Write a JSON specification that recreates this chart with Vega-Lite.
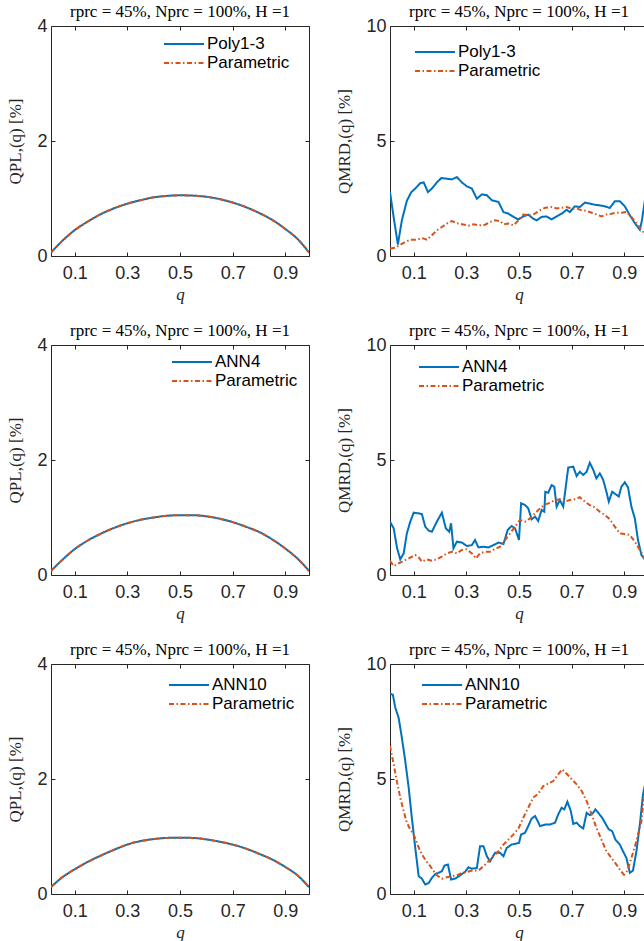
{
  "$schema": "https://vega.github.io/schema/vega-lite/v6.json",
  "padding": {"left": 6, "top": 2, "right": 0, "bottom": 0},
  "columns": 2,
  "spacing": {"row": 89, "column": 81},
  "bounds": "flush",
  "resolve": {"scale": {"color": "independent", "strokeDash": "independent"}, "legend": {"color": "independent", "strokeDash": "independent"}},
  "datasets": {
    "pl1": [
      {"q":0.01,"v":0.06,"s":"Poly1-3"},{"q":0.05,"v":0.25,"s":"Poly1-3"},{"q":0.1,"v":0.45,"s":"Poly1-3"},{"q":0.15,"v":0.6,"s":"Poly1-3"},{"q":0.2,"v":0.73,"s":"Poly1-3"},{"q":0.25,"v":0.83,"s":"Poly1-3"},{"q":0.3,"v":0.91,"s":"Poly1-3"},{"q":0.35,"v":0.97,"s":"Poly1-3"},{"q":0.4,"v":1.02,"s":"Poly1-3"},{"q":0.45,"v":1.045,"s":"Poly1-3"},{"q":0.5,"v":1.055,"s":"Poly1-3"},{"q":0.55,"v":1.05,"s":"Poly1-3"},{"q":0.6,"v":1.03,"s":"Poly1-3"},{"q":0.65,"v":0.99,"s":"Poly1-3"},{"q":0.7,"v":0.93,"s":"Poly1-3"},{"q":0.75,"v":0.85,"s":"Poly1-3"},{"q":0.8,"v":0.75,"s":"Poly1-3"},{"q":0.85,"v":0.63,"s":"Poly1-3"},{"q":0.9,"v":0.47,"s":"Poly1-3"},{"q":0.95,"v":0.28,"s":"Poly1-3"},{"q":0.99,"v":0.06,"s":"Poly1-3"},
      {"q":0.01,"v":0.06,"s":"Parametric"},{"q":0.05,"v":0.25,"s":"Parametric"},{"q":0.1,"v":0.45,"s":"Parametric"},{"q":0.15,"v":0.6,"s":"Parametric"},{"q":0.2,"v":0.73,"s":"Parametric"},{"q":0.25,"v":0.83,"s":"Parametric"},{"q":0.3,"v":0.91,"s":"Parametric"},{"q":0.35,"v":0.97,"s":"Parametric"},{"q":0.4,"v":1.02,"s":"Parametric"},{"q":0.45,"v":1.045,"s":"Parametric"},{"q":0.5,"v":1.055,"s":"Parametric"},{"q":0.55,"v":1.05,"s":"Parametric"},{"q":0.6,"v":1.03,"s":"Parametric"},{"q":0.65,"v":0.99,"s":"Parametric"},{"q":0.7,"v":0.93,"s":"Parametric"},{"q":0.75,"v":0.85,"s":"Parametric"},{"q":0.8,"v":0.75,"s":"Parametric"},{"q":0.85,"v":0.63,"s":"Parametric"},{"q":0.9,"v":0.47,"s":"Parametric"},{"q":0.95,"v":0.28,"s":"Parametric"},{"q":0.99,"v":0.06,"s":"Parametric"}
    ],
    "pl2": [
      {"q":0.01,"v":0.07,"s":"ANN4"},{"q":0.05,"v":0.25,"s":"ANN4"},{"q":0.1,"v":0.45,"s":"ANN4"},{"q":0.15,"v":0.6,"s":"ANN4"},{"q":0.2,"v":0.72,"s":"ANN4"},{"q":0.25,"v":0.82,"s":"ANN4"},{"q":0.3,"v":0.9,"s":"ANN4"},{"q":0.35,"v":0.96,"s":"ANN4"},{"q":0.4,"v":1.0,"s":"ANN4"},{"q":0.45,"v":1.03,"s":"ANN4"},{"q":0.5,"v":1.04,"s":"ANN4"},{"q":0.55,"v":1.04,"s":"ANN4"},{"q":0.6,"v":1.02,"s":"ANN4"},{"q":0.65,"v":0.98,"s":"ANN4"},{"q":0.7,"v":0.92,"s":"ANN4"},{"q":0.75,"v":0.84,"s":"ANN4"},{"q":0.8,"v":0.75,"s":"ANN4"},{"q":0.85,"v":0.62,"s":"ANN4"},{"q":0.9,"v":0.46,"s":"ANN4"},{"q":0.95,"v":0.27,"s":"ANN4"},{"q":0.99,"v":0.07,"s":"ANN4"},
      {"q":0.01,"v":0.07,"s":"Parametric"},{"q":0.05,"v":0.25,"s":"Parametric"},{"q":0.1,"v":0.45,"s":"Parametric"},{"q":0.15,"v":0.6,"s":"Parametric"},{"q":0.2,"v":0.72,"s":"Parametric"},{"q":0.25,"v":0.82,"s":"Parametric"},{"q":0.3,"v":0.9,"s":"Parametric"},{"q":0.35,"v":0.96,"s":"Parametric"},{"q":0.4,"v":1.0,"s":"Parametric"},{"q":0.45,"v":1.03,"s":"Parametric"},{"q":0.5,"v":1.04,"s":"Parametric"},{"q":0.55,"v":1.04,"s":"Parametric"},{"q":0.6,"v":1.02,"s":"Parametric"},{"q":0.65,"v":0.98,"s":"Parametric"},{"q":0.7,"v":0.92,"s":"Parametric"},{"q":0.75,"v":0.84,"s":"Parametric"},{"q":0.8,"v":0.75,"s":"Parametric"},{"q":0.85,"v":0.62,"s":"Parametric"},{"q":0.9,"v":0.46,"s":"Parametric"},{"q":0.95,"v":0.27,"s":"Parametric"},{"q":0.99,"v":0.07,"s":"Parametric"}
    ],
    "pl3": [
      {"q":0.01,"v":0.12,"s":"ANN10"},{"q":0.05,"v":0.28,"s":"ANN10"},{"q":0.1,"v":0.43,"s":"ANN10"},{"q":0.15,"v":0.56,"s":"ANN10"},{"q":0.2,"v":0.67,"s":"ANN10"},{"q":0.25,"v":0.77,"s":"ANN10"},{"q":0.3,"v":0.86,"s":"ANN10"},{"q":0.35,"v":0.92,"s":"ANN10"},{"q":0.4,"v":0.955,"s":"ANN10"},{"q":0.45,"v":0.975,"s":"ANN10"},{"q":0.5,"v":0.98,"s":"ANN10"},{"q":0.55,"v":0.975,"s":"ANN10"},{"q":0.6,"v":0.95,"s":"ANN10"},{"q":0.65,"v":0.91,"s":"ANN10"},{"q":0.7,"v":0.86,"s":"ANN10"},{"q":0.75,"v":0.79,"s":"ANN10"},{"q":0.8,"v":0.7,"s":"ANN10"},{"q":0.85,"v":0.6,"s":"ANN10"},{"q":0.9,"v":0.47,"s":"ANN10"},{"q":0.95,"v":0.31,"s":"ANN10"},{"q":0.99,"v":0.12,"s":"ANN10"},
      {"q":0.01,"v":0.12,"s":"Parametric"},{"q":0.05,"v":0.28,"s":"Parametric"},{"q":0.1,"v":0.43,"s":"Parametric"},{"q":0.15,"v":0.56,"s":"Parametric"},{"q":0.2,"v":0.67,"s":"Parametric"},{"q":0.25,"v":0.77,"s":"Parametric"},{"q":0.3,"v":0.86,"s":"Parametric"},{"q":0.35,"v":0.92,"s":"Parametric"},{"q":0.4,"v":0.955,"s":"Parametric"},{"q":0.45,"v":0.975,"s":"Parametric"},{"q":0.5,"v":0.98,"s":"Parametric"},{"q":0.55,"v":0.975,"s":"Parametric"},{"q":0.6,"v":0.95,"s":"Parametric"},{"q":0.65,"v":0.91,"s":"Parametric"},{"q":0.7,"v":0.86,"s":"Parametric"},{"q":0.75,"v":0.79,"s":"Parametric"},{"q":0.8,"v":0.7,"s":"Parametric"},{"q":0.85,"v":0.6,"s":"Parametric"},{"q":0.9,"v":0.47,"s":"Parametric"},{"q":0.95,"v":0.31,"s":"Parametric"},{"q":0.99,"v":0.12,"s":"Parametric"}
    ],
    "mrd1": [
      {"q":0.01,"v":2.78,"s":"Poly1-3"},{"q":0.025,"v":1.6,"s":"Poly1-3"},{"q":0.04,"v":0.5,"s":"Poly1-3"},{"q":0.055,"v":1.55,"s":"Poly1-3"},{"q":0.074,"v":2.4,"s":"Poly1-3"},{"q":0.091,"v":2.78,"s":"Poly1-3"},{"q":0.106,"v":2.93,"s":"Poly1-3"},{"q":0.125,"v":3.17,"s":"Poly1-3"},{"q":0.138,"v":3.2,"s":"Poly1-3"},{"q":0.154,"v":2.78,"s":"Poly1-3"},{"q":0.169,"v":2.93,"s":"Poly1-3"},{"q":0.188,"v":3.2,"s":"Poly1-3"},{"q":0.205,"v":3.39,"s":"Poly1-3"},{"q":0.226,"v":3.36,"s":"Poly1-3"},{"q":0.245,"v":3.33,"s":"Poly1-3"},{"q":0.264,"v":3.43,"s":"Poly1-3"},{"q":0.283,"v":3.2,"s":"Poly1-3"},{"q":0.302,"v":3.03,"s":"Poly1-3"},{"q":0.321,"v":2.93,"s":"Poly1-3"},{"q":0.34,"v":2.49,"s":"Poly1-3"},{"q":0.359,"v":2.68,"s":"Poly1-3"},{"q":0.378,"v":2.64,"s":"Poly1-3"},{"q":0.397,"v":2.42,"s":"Poly1-3"},{"q":0.422,"v":2.35,"s":"Poly1-3"},{"q":0.441,"v":1.91,"s":"Poly1-3"},{"q":0.46,"v":1.84,"s":"Poly1-3"},{"q":0.479,"v":1.7,"s":"Poly1-3"},{"q":0.498,"v":1.59,"s":"Poly1-3"},{"q":0.516,"v":1.72,"s":"Poly1-3"},{"q":0.535,"v":1.8,"s":"Poly1-3"},{"q":0.554,"v":1.62,"s":"Poly1-3"},{"q":0.567,"v":1.55,"s":"Poly1-3"},{"q":0.586,"v":1.7,"s":"Poly1-3"},{"q":0.605,"v":1.72,"s":"Poly1-3"},{"q":0.624,"v":1.59,"s":"Poly1-3"},{"q":0.643,"v":1.72,"s":"Poly1-3"},{"q":0.662,"v":1.84,"s":"Poly1-3"},{"q":0.681,"v":2.01,"s":"Poly1-3"},{"q":0.693,"v":1.91,"s":"Poly1-3"},{"q":0.712,"v":2.16,"s":"Poly1-3"},{"q":0.731,"v":2.13,"s":"Poly1-3"},{"q":0.75,"v":2.32,"s":"Poly1-3"},{"q":0.769,"v":2.28,"s":"Poly1-3"},{"q":0.788,"v":2.23,"s":"Poly1-3"},{"q":0.807,"v":2.2,"s":"Poly1-3"},{"q":0.826,"v":2.16,"s":"Poly1-3"},{"q":0.845,"v":2.09,"s":"Poly1-3"},{"q":0.864,"v":2.38,"s":"Poly1-3"},{"q":0.883,"v":2.38,"s":"Poly1-3"},{"q":0.902,"v":2.16,"s":"Poly1-3"},{"q":0.921,"v":1.77,"s":"Poly1-3"},{"q":0.94,"v":1.43,"s":"Poly1-3"},{"q":0.959,"v":1.14,"s":"Poly1-3"},{"q":0.967,"v":1.55,"s":"Poly1-3"},{"q":0.978,"v":2.42,"s":"Poly1-3"},{"q":0.99,"v":2.9,"s":"Poly1-3"},
      {"q":0.01,"v":0.32,"s":"Parametric"},{"q":0.03,"v":0.36,"s":"Parametric"},{"q":0.049,"v":0.49,"s":"Parametric"},{"q":0.068,"v":0.61,"s":"Parametric"},{"q":0.087,"v":0.71,"s":"Parametric"},{"q":0.112,"v":0.71,"s":"Parametric"},{"q":0.131,"v":0.78,"s":"Parametric"},{"q":0.15,"v":0.71,"s":"Parametric"},{"q":0.169,"v":0.9,"s":"Parametric"},{"q":0.188,"v":1.12,"s":"Parametric"},{"q":0.207,"v":1.26,"s":"Parametric"},{"q":0.226,"v":1.41,"s":"Parametric"},{"q":0.245,"v":1.52,"s":"Parametric"},{"q":0.264,"v":1.43,"s":"Parametric"},{"q":0.283,"v":1.38,"s":"Parametric"},{"q":0.308,"v":1.32,"s":"Parametric"},{"q":0.327,"v":1.38,"s":"Parametric"},{"q":0.346,"v":1.33,"s":"Parametric"},{"q":0.371,"v":1.36,"s":"Parametric"},{"q":0.39,"v":1.48,"s":"Parametric"},{"q":0.409,"v":1.55,"s":"Parametric"},{"q":0.428,"v":1.52,"s":"Parametric"},{"q":0.441,"v":1.38,"s":"Parametric"},{"q":0.46,"v":1.41,"s":"Parametric"},{"q":0.479,"v":1.33,"s":"Parametric"},{"q":0.498,"v":1.55,"s":"Parametric"},{"q":0.516,"v":1.8,"s":"Parametric"},{"q":0.542,"v":1.77,"s":"Parametric"},{"q":0.56,"v":1.84,"s":"Parametric"},{"q":0.58,"v":1.99,"s":"Parametric"},{"q":0.6,"v":2.1,"s":"Parametric"},{"q":0.624,"v":2.13,"s":"Parametric"},{"q":0.643,"v":2.07,"s":"Parametric"},{"q":0.662,"v":2.1,"s":"Parametric"},{"q":0.681,"v":2.13,"s":"Parametric"},{"q":0.7,"v":2.06,"s":"Parametric"},{"q":0.72,"v":2.06,"s":"Parametric"},{"q":0.738,"v":1.99,"s":"Parametric"},{"q":0.757,"v":1.96,"s":"Parametric"},{"q":0.776,"v":1.88,"s":"Parametric"},{"q":0.794,"v":1.81,"s":"Parametric"},{"q":0.813,"v":1.72,"s":"Parametric"},{"q":0.832,"v":1.81,"s":"Parametric"},{"q":0.851,"v":1.84,"s":"Parametric"},{"q":0.87,"v":1.88,"s":"Parametric"},{"q":0.889,"v":1.88,"s":"Parametric"},{"q":0.908,"v":1.91,"s":"Parametric"},{"q":0.927,"v":1.7,"s":"Parametric"},{"q":0.946,"v":1.43,"s":"Parametric"},{"q":0.965,"v":1.12,"s":"Parametric"},{"q":0.984,"v":0.9,"s":"Parametric"},{"q":0.99,"v":0.85,"s":"Parametric"}
    ],
    "mrd2": [
      {"q":0.01,"v":2.32,"s":"ANN4"},{"q":0.024,"v":2.03,"s":"ANN4"},{"q":0.037,"v":1.16,"s":"ANN4"},{"q":0.049,"v":0.68,"s":"ANN4"},{"q":0.062,"v":0.94,"s":"ANN4"},{"q":0.074,"v":1.81,"s":"ANN4"},{"q":0.087,"v":2.32,"s":"ANN4"},{"q":0.1,"v":2.71,"s":"ANN4"},{"q":0.119,"v":2.68,"s":"ANN4"},{"q":0.131,"v":2.65,"s":"ANN4"},{"q":0.144,"v":2.1,"s":"ANN4"},{"q":0.157,"v":1.93,"s":"ANN4"},{"q":0.169,"v":1.88,"s":"ANN4"},{"q":0.188,"v":2.32,"s":"ANN4"},{"q":0.207,"v":2.71,"s":"ANN4"},{"q":0.222,"v":2.03,"s":"ANN4"},{"q":0.235,"v":1.88,"s":"ANN4"},{"q":0.242,"v":2.25,"s":"ANN4"},{"q":0.251,"v":1.16,"s":"ANN4"},{"q":0.264,"v":1.45,"s":"ANN4"},{"q":0.283,"v":1.41,"s":"ANN4"},{"q":0.302,"v":1.26,"s":"ANN4"},{"q":0.321,"v":1.3,"s":"ANN4"},{"q":0.333,"v":1.52,"s":"ANN4"},{"q":0.346,"v":1.2,"s":"ANN4"},{"q":0.365,"v":1.23,"s":"ANN4"},{"q":0.384,"v":1.2,"s":"ANN4"},{"q":0.403,"v":1.3,"s":"ANN4"},{"q":0.422,"v":1.41,"s":"ANN4"},{"q":0.441,"v":1.35,"s":"ANN4"},{"q":0.457,"v":1.96,"s":"ANN4"},{"q":0.472,"v":2.13,"s":"ANN4"},{"q":0.485,"v":2.03,"s":"ANN4"},{"q":0.5,"v":1.52,"s":"ANN4"},{"q":0.508,"v":3.12,"s":"ANN4"},{"q":0.523,"v":3.04,"s":"ANN4"},{"q":0.535,"v":2.9,"s":"ANN4"},{"q":0.548,"v":2.42,"s":"ANN4"},{"q":0.561,"v":2.54,"s":"ANN4"},{"q":0.573,"v":2.35,"s":"ANN4"},{"q":0.586,"v":2.83,"s":"ANN4"},{"q":0.596,"v":2.75,"s":"ANN4"},{"q":0.6,"v":3.62,"s":"ANN4"},{"q":0.611,"v":3.58,"s":"ANN4"},{"q":0.624,"v":3.91,"s":"ANN4"},{"q":0.634,"v":3.84,"s":"ANN4"},{"q":0.643,"v":2.97,"s":"ANN4"},{"q":0.655,"v":3.26,"s":"ANN4"},{"q":0.668,"v":2.97,"s":"ANN4"},{"q":0.687,"v":4.67,"s":"ANN4"},{"q":0.706,"v":4.71,"s":"ANN4"},{"q":0.719,"v":4.3,"s":"ANN4"},{"q":0.731,"v":4.49,"s":"ANN4"},{"q":0.744,"v":4.35,"s":"ANN4"},{"q":0.757,"v":4.49,"s":"ANN4"},{"q":0.769,"v":4.88,"s":"ANN4"},{"q":0.782,"v":4.57,"s":"ANN4"},{"q":0.794,"v":4.2,"s":"ANN4"},{"q":0.807,"v":4.42,"s":"ANN4"},{"q":0.82,"v":4.13,"s":"ANN4"},{"q":0.832,"v":3.62,"s":"ANN4"},{"q":0.841,"v":3.19,"s":"ANN4"},{"q":0.854,"v":3.62,"s":"ANN4"},{"q":0.866,"v":3.52,"s":"ANN4"},{"q":0.879,"v":3.41,"s":"ANN4"},{"q":0.889,"v":3.84,"s":"ANN4"},{"q":0.902,"v":4.03,"s":"ANN4"},{"q":0.914,"v":3.81,"s":"ANN4"},{"q":0.927,"v":2.97,"s":"ANN4"},{"q":0.94,"v":2.46,"s":"ANN4"},{"q":0.952,"v":1.52,"s":"ANN4"},{"q":0.965,"v":0.87,"s":"ANN4"},{"q":0.978,"v":0.68,"s":"ANN4"},{"q":0.99,"v":0.5,"s":"ANN4"},
      {"q":0.01,"v":0.62,"s":"Parametric"},{"q":0.024,"v":0.39,"s":"Parametric"},{"q":0.043,"v":0.51,"s":"Parametric"},{"q":0.062,"v":0.62,"s":"Parametric"},{"q":0.081,"v":0.72,"s":"Parametric"},{"q":0.106,"v":0.87,"s":"Parametric"},{"q":0.119,"v":0.77,"s":"Parametric"},{"q":0.131,"v":0.58,"s":"Parametric"},{"q":0.15,"v":0.68,"s":"Parametric"},{"q":0.169,"v":0.62,"s":"Parametric"},{"q":0.188,"v":0.68,"s":"Parametric"},{"q":0.207,"v":0.8,"s":"Parametric"},{"q":0.226,"v":0.94,"s":"Parametric"},{"q":0.245,"v":1.01,"s":"Parametric"},{"q":0.264,"v":0.94,"s":"Parametric"},{"q":0.283,"v":1.09,"s":"Parametric"},{"q":0.302,"v":1.12,"s":"Parametric"},{"q":0.321,"v":0.94,"s":"Parametric"},{"q":0.336,"v":0.72,"s":"Parametric"},{"q":0.352,"v":0.94,"s":"Parametric"},{"q":0.371,"v":1.01,"s":"Parametric"},{"q":0.39,"v":1.01,"s":"Parametric"},{"q":0.409,"v":1.13,"s":"Parametric"},{"q":0.428,"v":1.23,"s":"Parametric"},{"q":0.447,"v":1.52,"s":"Parametric"},{"q":0.466,"v":1.81,"s":"Parametric"},{"q":0.485,"v":2.1,"s":"Parametric"},{"q":0.504,"v":2.39,"s":"Parametric"},{"q":0.523,"v":2.32,"s":"Parametric"},{"q":0.542,"v":2.46,"s":"Parametric"},{"q":0.561,"v":2.68,"s":"Parametric"},{"q":0.58,"v":2.9,"s":"Parametric"},{"q":0.6,"v":3.07,"s":"Parametric"},{"q":0.618,"v":3.14,"s":"Parametric"},{"q":0.637,"v":3.26,"s":"Parametric"},{"q":0.656,"v":3.29,"s":"Parametric"},{"q":0.674,"v":3.19,"s":"Parametric"},{"q":0.693,"v":3.26,"s":"Parametric"},{"q":0.712,"v":3.29,"s":"Parametric"},{"q":0.731,"v":3.38,"s":"Parametric"},{"q":0.75,"v":3.19,"s":"Parametric"},{"q":0.769,"v":3.04,"s":"Parametric"},{"q":0.788,"v":2.94,"s":"Parametric"},{"q":0.807,"v":2.75,"s":"Parametric"},{"q":0.826,"v":2.61,"s":"Parametric"},{"q":0.845,"v":2.42,"s":"Parametric"},{"q":0.864,"v":2.1,"s":"Parametric"},{"q":0.883,"v":1.81,"s":"Parametric"},{"q":0.902,"v":1.78,"s":"Parametric"},{"q":0.921,"v":1.74,"s":"Parametric"},{"q":0.94,"v":1.45,"s":"Parametric"},{"q":0.959,"v":1.09,"s":"Parametric"},{"q":0.978,"v":0.72,"s":"Parametric"},{"q":0.99,"v":0.52,"s":"Parametric"}
    ],
    "mrd3": [
      {"q":0.01,"v":8.72,"s":"ANN10"},{"q":0.021,"v":8.66,"s":"ANN10"},{"q":0.03,"v":8.11,"s":"ANN10"},{"q":0.043,"v":7.65,"s":"ANN10"},{"q":0.055,"v":6.8,"s":"ANN10"},{"q":0.068,"v":5.78,"s":"ANN10"},{"q":0.081,"v":4.62,"s":"ANN10"},{"q":0.093,"v":3.31,"s":"ANN10"},{"q":0.106,"v":2.0,"s":"ANN10"},{"q":0.119,"v":0.77,"s":"ANN10"},{"q":0.131,"v":0.67,"s":"ANN10"},{"q":0.144,"v":0.41,"s":"ANN10"},{"q":0.157,"v":0.48,"s":"ANN10"},{"q":0.169,"v":0.7,"s":"ANN10"},{"q":0.182,"v":0.87,"s":"ANN10"},{"q":0.194,"v":0.92,"s":"ANN10"},{"q":0.207,"v":0.99,"s":"ANN10"},{"q":0.217,"v":1.24,"s":"ANN10"},{"q":0.23,"v":1.28,"s":"ANN10"},{"q":0.242,"v":0.63,"s":"ANN10"},{"q":0.258,"v":0.67,"s":"ANN10"},{"q":0.276,"v":0.81,"s":"ANN10"},{"q":0.295,"v":0.96,"s":"ANN10"},{"q":0.308,"v":1.16,"s":"ANN10"},{"q":0.321,"v":1.1,"s":"ANN10"},{"q":0.34,"v":1.13,"s":"ANN10"},{"q":0.352,"v":2.08,"s":"ANN10"},{"q":0.365,"v":2.08,"s":"ANN10"},{"q":0.378,"v":1.64,"s":"ANN10"},{"q":0.39,"v":1.42,"s":"ANN10"},{"q":0.409,"v":1.79,"s":"ANN10"},{"q":0.428,"v":1.79,"s":"ANN10"},{"q":0.441,"v":1.64,"s":"ANN10"},{"q":0.453,"v":2.0,"s":"ANN10"},{"q":0.472,"v":2.15,"s":"ANN10"},{"q":0.485,"v":2.18,"s":"ANN10"},{"q":0.5,"v":2.22,"s":"ANN10"},{"q":0.508,"v":2.59,"s":"ANN10"},{"q":0.523,"v":2.66,"s":"ANN10"},{"q":0.535,"v":2.95,"s":"ANN10"},{"q":0.548,"v":3.28,"s":"ANN10"},{"q":0.561,"v":3.39,"s":"ANN10"},{"q":0.571,"v":3.17,"s":"ANN10"},{"q":0.58,"v":2.95,"s":"ANN10"},{"q":0.6,"v":3.02,"s":"ANN10"},{"q":0.618,"v":3.02,"s":"ANN10"},{"q":0.637,"v":3.1,"s":"ANN10"},{"q":0.649,"v":3.46,"s":"ANN10"},{"q":0.662,"v":3.75,"s":"ANN10"},{"q":0.672,"v":3.68,"s":"ANN10"},{"q":0.684,"v":4.01,"s":"ANN10"},{"q":0.697,"v":3.6,"s":"ANN10"},{"q":0.706,"v":3.05,"s":"ANN10"},{"q":0.719,"v":3.1,"s":"ANN10"},{"q":0.731,"v":2.95,"s":"ANN10"},{"q":0.744,"v":2.85,"s":"ANN10"},{"q":0.757,"v":3.53,"s":"ANN10"},{"q":0.769,"v":3.43,"s":"ANN10"},{"q":0.782,"v":3.53,"s":"ANN10"},{"q":0.79,"v":3.68,"s":"ANN10"},{"q":0.804,"v":3.49,"s":"ANN10"},{"q":0.816,"v":3.31,"s":"ANN10"},{"q":0.829,"v":3.05,"s":"ANN10"},{"q":0.841,"v":2.81,"s":"ANN10"},{"q":0.854,"v":2.73,"s":"ANN10"},{"q":0.866,"v":2.37,"s":"ANN10"},{"q":0.883,"v":2.15,"s":"ANN10"},{"q":0.895,"v":1.86,"s":"ANN10"},{"q":0.908,"v":1.57,"s":"ANN10"},{"q":0.921,"v":0.92,"s":"ANN10"},{"q":0.933,"v":1.02,"s":"ANN10"},{"q":0.946,"v":1.86,"s":"ANN10"},{"q":0.959,"v":3.02,"s":"ANN10"},{"q":0.971,"v":4.33,"s":"ANN10"},{"q":0.985,"v":5.1,"s":"ANN10"},{"q":0.99,"v":5.6,"s":"ANN10"},
      {"q":0.01,"v":6.44,"s":"Parametric"},{"q":0.024,"v":5.64,"s":"Parametric"},{"q":0.037,"v":4.84,"s":"Parametric"},{"q":0.049,"v":4.19,"s":"Parametric"},{"q":0.062,"v":3.6,"s":"Parametric"},{"q":0.074,"v":3.1,"s":"Parametric"},{"q":0.087,"v":2.81,"s":"Parametric"},{"q":0.1,"v":2.59,"s":"Parametric"},{"q":0.112,"v":2.22,"s":"Parametric"},{"q":0.125,"v":1.86,"s":"Parametric"},{"q":0.138,"v":1.6,"s":"Parametric"},{"q":0.15,"v":1.4,"s":"Parametric"},{"q":0.163,"v":1.21,"s":"Parametric"},{"q":0.176,"v":0.99,"s":"Parametric"},{"q":0.188,"v":0.81,"s":"Parametric"},{"q":0.207,"v":0.67,"s":"Parametric"},{"q":0.226,"v":0.73,"s":"Parametric"},{"q":0.245,"v":0.77,"s":"Parametric"},{"q":0.264,"v":0.81,"s":"Parametric"},{"q":0.283,"v":0.92,"s":"Parametric"},{"q":0.302,"v":0.96,"s":"Parametric"},{"q":0.321,"v":1.02,"s":"Parametric"},{"q":0.346,"v":1.02,"s":"Parametric"},{"q":0.365,"v":1.21,"s":"Parametric"},{"q":0.384,"v":1.42,"s":"Parametric"},{"q":0.403,"v":1.64,"s":"Parametric"},{"q":0.422,"v":1.86,"s":"Parametric"},{"q":0.441,"v":2.15,"s":"Parametric"},{"q":0.46,"v":2.37,"s":"Parametric"},{"q":0.479,"v":2.59,"s":"Parametric"},{"q":0.498,"v":2.85,"s":"Parametric"},{"q":0.516,"v":3.31,"s":"Parametric"},{"q":0.535,"v":3.75,"s":"Parametric"},{"q":0.554,"v":4.19,"s":"Parametric"},{"q":0.573,"v":4.36,"s":"Parametric"},{"q":0.592,"v":4.69,"s":"Parametric"},{"q":0.611,"v":4.8,"s":"Parametric"},{"q":0.63,"v":4.91,"s":"Parametric"},{"q":0.649,"v":5.2,"s":"Parametric"},{"q":0.664,"v":5.42,"s":"Parametric"},{"q":0.681,"v":5.23,"s":"Parametric"},{"q":0.7,"v":4.99,"s":"Parametric"},{"q":0.719,"v":4.77,"s":"Parametric"},{"q":0.738,"v":4.48,"s":"Parametric"},{"q":0.757,"v":4.04,"s":"Parametric"},{"q":0.776,"v":3.46,"s":"Parametric"},{"q":0.794,"v":2.88,"s":"Parametric"},{"q":0.813,"v":2.37,"s":"Parametric"},{"q":0.832,"v":1.86,"s":"Parametric"},{"q":0.851,"v":1.57,"s":"Parametric"},{"q":0.87,"v":1.28,"s":"Parametric"},{"q":0.887,"v":0.99,"s":"Parametric"},{"q":0.899,"v":0.84,"s":"Parametric"},{"q":0.912,"v":1.02,"s":"Parametric"},{"q":0.927,"v":1.57,"s":"Parametric"},{"q":0.946,"v":2.3,"s":"Parametric"},{"q":0.965,"v":3.17,"s":"Parametric"},{"q":0.977,"v":4.48,"s":"Parametric"},{"q":0.99,"v":5.2,"s":"Parametric"}
    ]
  },
  "concat": [
    {
      "width": 258, "height": 230,
      "title": "rprc = 45%, Nprc = 100%, H =1",
      "data": {"name": "pl1"},
      "layer": [
        {
          "mark": {"type": "line", "strokeWidth": 2, "clip": true, "interpolate": "monotone"},
          "encoding": {
            "x": {"field": "q", "type": "quantitative", "scale": {"domain": [0.01, 0.99], "nice": false, "zero": false}, "axis": {"values": [0.1, 0.3, 0.5, 0.7, 0.9], "format": ".1f", "title": "q"}},
            "y": {"field": "v", "type": "quantitative", "scale": {"domain": [0, 4], "nice": false}, "axis": {"values": [0, 2, 4], "title": "QPL,(q) [%]"}},
            "color": {"field": "s", "type": "nominal", "scale": {"domain": ["Poly1-3", "Parametric"], "range": ["#0072BD", "#D95319"]}, "legend": {"orient": "none", "legendX": 122, "legendY": 7, "title": null}},
            "strokeDash": {"field": "s", "type": "nominal", "scale": {"domain": ["Poly1-3", "Parametric"], "range": [[1, 0], [5, 2.5, 1.5, 2.5]]}, "legend": {"orient": "none", "legendX": 122, "legendY": 7, "title": null}}
          }
        },
        {
          "mark": {"type": "line", "opacity": 0},
          "encoding": {
            "x": {"field": "q", "type": "quantitative", "axis": {"orient": "top", "labels": false, "title": null, "values": [0.1, 0.3, 0.5, 0.7, 0.9]}},
            "y": {"field": "v", "type": "quantitative", "axis": {"orient": "right", "labels": false, "title": null, "values": [0, 2, 4]}}
          }
        }
      ],
      "resolve": {"axis": {"x": "independent", "y": "independent"}}
    },
    {
      "width": 258, "height": 230,
      "title": "rprc = 45%, Nprc = 100%, H =1",
      "data": {"name": "mrd1"},
      "layer": [
        {
          "mark": {"type": "line", "strokeWidth": 2, "clip": true},
          "encoding": {
            "x": {"field": "q", "type": "quantitative", "scale": {"domain": [0.01, 0.99], "nice": false, "zero": false}, "axis": {"values": [0.1, 0.3, 0.5, 0.7, 0.9], "format": ".1f", "title": "q"}},
            "y": {"field": "v", "type": "quantitative", "scale": {"domain": [0, 10], "nice": false}, "axis": {"values": [0, 5, 10], "title": "QMRD,(q) [%]"}},
            "color": {"field": "s", "type": "nominal", "scale": {"domain": ["Poly1-3", "Parametric"], "range": ["#0072BD", "#D95319"]}, "legend": {"orient": "none", "legendX": 34, "legendY": 15, "title": null}},
            "strokeDash": {"field": "s", "type": "nominal", "scale": {"domain": ["Poly1-3", "Parametric"], "range": [[1, 0], [5, 2.5, 1.5, 2.5]]}, "legend": {"orient": "none", "legendX": 34, "legendY": 15, "title": null}}
          }
        },
        {
          "mark": {"type": "line", "opacity": 0},
          "encoding": {
            "x": {"field": "q", "type": "quantitative", "axis": {"orient": "top", "labels": false, "title": null, "values": [0.1, 0.3, 0.5, 0.7, 0.9]}},
            "y": {"field": "v", "type": "quantitative", "axis": {"orient": "right", "labels": false, "title": null, "values": [0, 5, 10]}}
          }
        }
      ],
      "resolve": {"axis": {"x": "independent", "y": "independent"}}
    },
    {
      "width": 258, "height": 230,
      "title": "rprc = 45%, Nprc = 100%, H =1",
      "data": {"name": "pl2"},
      "layer": [
        {
          "mark": {"type": "line", "strokeWidth": 2, "clip": true, "interpolate": "monotone"},
          "encoding": {
            "x": {"field": "q", "type": "quantitative", "scale": {"domain": [0.01, 0.99], "nice": false, "zero": false}, "axis": {"values": [0.1, 0.3, 0.5, 0.7, 0.9], "format": ".1f", "title": "q"}},
            "y": {"field": "v", "type": "quantitative", "scale": {"domain": [0, 4], "nice": false}, "axis": {"values": [0, 2, 4], "title": "QPL,(q) [%]"}},
            "color": {"field": "s", "type": "nominal", "scale": {"domain": ["ANN4", "Parametric"], "range": ["#0072BD", "#D95319"]}, "legend": {"orient": "none", "legendX": 130, "legendY": 6, "title": null}},
            "strokeDash": {"field": "s", "type": "nominal", "scale": {"domain": ["ANN4", "Parametric"], "range": [[1, 0], [5, 2.5, 1.5, 2.5]]}, "legend": {"orient": "none", "legendX": 130, "legendY": 6, "title": null}}
          }
        },
        {
          "mark": {"type": "line", "opacity": 0},
          "encoding": {
            "x": {"field": "q", "type": "quantitative", "axis": {"orient": "top", "labels": false, "title": null, "values": [0.1, 0.3, 0.5, 0.7, 0.9]}},
            "y": {"field": "v", "type": "quantitative", "axis": {"orient": "right", "labels": false, "title": null, "values": [0, 2, 4]}}
          }
        }
      ],
      "resolve": {"axis": {"x": "independent", "y": "independent"}}
    },
    {
      "width": 258, "height": 230,
      "title": "rprc = 45%, Nprc = 100%, H =1",
      "data": {"name": "mrd2"},
      "layer": [
        {
          "mark": {"type": "line", "strokeWidth": 2, "clip": true},
          "encoding": {
            "x": {"field": "q", "type": "quantitative", "scale": {"domain": [0.01, 0.99], "nice": false, "zero": false}, "axis": {"values": [0.1, 0.3, 0.5, 0.7, 0.9], "format": ".1f", "title": "q"}},
            "y": {"field": "v", "type": "quantitative", "scale": {"domain": [0, 10], "nice": false}, "axis": {"values": [0, 5, 10], "title": "QMRD,(q) [%]"}},
            "color": {"field": "s", "type": "nominal", "scale": {"domain": ["ANN4", "Parametric"], "range": ["#0072BD", "#D95319"]}, "legend": {"orient": "none", "legendX": 38, "legendY": 11, "title": null}},
            "strokeDash": {"field": "s", "type": "nominal", "scale": {"domain": ["ANN4", "Parametric"], "range": [[1, 0], [5, 2.5, 1.5, 2.5]]}, "legend": {"orient": "none", "legendX": 38, "legendY": 11, "title": null}}
          }
        },
        {
          "mark": {"type": "line", "opacity": 0},
          "encoding": {
            "x": {"field": "q", "type": "quantitative", "axis": {"orient": "top", "labels": false, "title": null, "values": [0.1, 0.3, 0.5, 0.7, 0.9]}},
            "y": {"field": "v", "type": "quantitative", "axis": {"orient": "right", "labels": false, "title": null, "values": [0, 5, 10]}}
          }
        }
      ],
      "resolve": {"axis": {"x": "independent", "y": "independent"}}
    },
    {
      "width": 258, "height": 230,
      "title": "rprc = 45%, Nprc = 100%, H =1",
      "data": {"name": "pl3"},
      "layer": [
        {
          "mark": {"type": "line", "strokeWidth": 2, "clip": true, "interpolate": "monotone"},
          "encoding": {
            "x": {"field": "q", "type": "quantitative", "scale": {"domain": [0.01, 0.99], "nice": false, "zero": false}, "axis": {"values": [0.1, 0.3, 0.5, 0.7, 0.9], "format": ".1f", "title": "q"}},
            "y": {"field": "v", "type": "quantitative", "scale": {"domain": [0, 4], "nice": false}, "axis": {"values": [0, 2, 4], "title": "QPL,(q) [%]"}},
            "color": {"field": "s", "type": "nominal", "scale": {"domain": ["ANN10", "Parametric"], "range": ["#0072BD", "#D95319"]}, "legend": {"orient": "none", "legendX": 127, "legendY": 10, "title": null}},
            "strokeDash": {"field": "s", "type": "nominal", "scale": {"domain": ["ANN10", "Parametric"], "range": [[1, 0], [5, 2.5, 1.5, 2.5]]}, "legend": {"orient": "none", "legendX": 127, "legendY": 10, "title": null}}
          }
        },
        {
          "mark": {"type": "line", "opacity": 0},
          "encoding": {
            "x": {"field": "q", "type": "quantitative", "axis": {"orient": "top", "labels": false, "title": null, "values": [0.1, 0.3, 0.5, 0.7, 0.9]}},
            "y": {"field": "v", "type": "quantitative", "axis": {"orient": "right", "labels": false, "title": null, "values": [0, 2, 4]}}
          }
        }
      ],
      "resolve": {"axis": {"x": "independent", "y": "independent"}}
    },
    {
      "width": 258, "height": 230,
      "title": "rprc = 45%, Nprc = 100%, H =1",
      "data": {"name": "mrd3"},
      "layer": [
        {
          "mark": {"type": "line", "strokeWidth": 2, "clip": true},
          "encoding": {
            "x": {"field": "q", "type": "quantitative", "scale": {"domain": [0.01, 0.99], "nice": false, "zero": false}, "axis": {"values": [0.1, 0.3, 0.5, 0.7, 0.9], "format": ".1f", "title": "q"}},
            "y": {"field": "v", "type": "quantitative", "scale": {"domain": [0, 10], "nice": false}, "axis": {"values": [0, 5, 10], "title": "QMRD,(q) [%]"}},
            "color": {"field": "s", "type": "nominal", "scale": {"domain": ["ANN10", "Parametric"], "range": ["#0072BD", "#D95319"]}, "legend": {"orient": "none", "legendX": 41, "legendY": 10, "title": null}},
            "strokeDash": {"field": "s", "type": "nominal", "scale": {"domain": ["ANN10", "Parametric"], "range": [[1, 0], [5, 2.5, 1.5, 2.5]]}, "legend": {"orient": "none", "legendX": 41, "legendY": 10, "title": null}}
          }
        },
        {
          "mark": {"type": "line", "opacity": 0},
          "encoding": {
            "x": {"field": "q", "type": "quantitative", "axis": {"orient": "top", "labels": false, "title": null, "values": [0.1, 0.3, 0.5, 0.7, 0.9]}},
            "y": {"field": "v", "type": "quantitative", "axis": {"orient": "right", "labels": false, "title": null, "values": [0, 5, 10]}}
          }
        }
      ],
      "resolve": {"axis": {"x": "independent", "y": "independent"}}
    }
  ],
  "config": {
    "background": "white",
    "view": {"stroke": "#262626", "strokeWidth": 1},
    "axis": {"domain": false, "grid": false, "tickSize": -4, "tickColor": "#262626", "tickWidth": 1, "labelFont": "Liberation Sans", "labelFontSize": 18, "labelColor": "#262626", "titleFont": "Liberation Serif", "titleFontSize": 17, "titleFontWeight": "normal", "titleColor": "#262626"},
    "axisX": {"labelPadding": 12, "titleFontStyle": "italic", "titlePadding": 4},
    "axisY": {"labelPadding": 8, "titlePadding": 12},
    "title": {"font": "Liberation Serif", "fontSize": 17, "fontWeight": "normal", "color": "black", "offset": -4},
    "legend": {"labelFont": "Liberation Sans", "labelFontSize": 17, "labelColor": "black", "symbolType": "M-2,0H2", "symbolSize": 400, "symbolStrokeWidth": 2, "labelOffset": 12, "rowPadding": 0, "padding": 0}
  }
}
